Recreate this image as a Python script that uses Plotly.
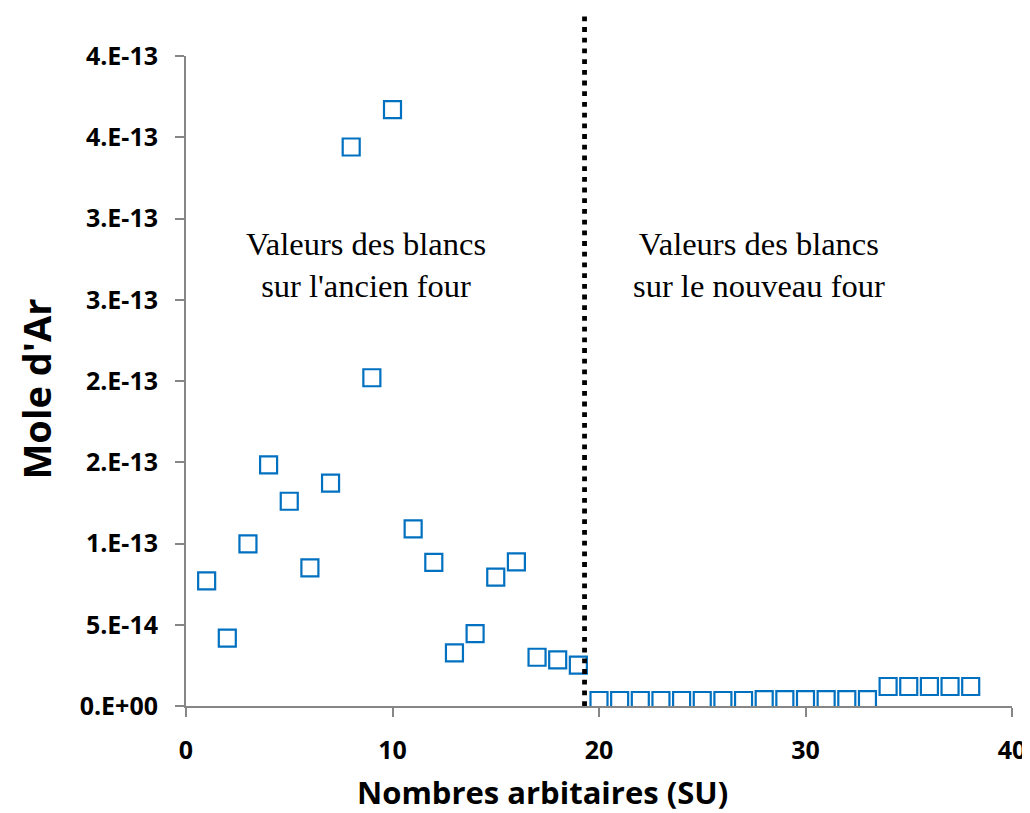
import plotly.graph_objects as go

# sample numbers (arbitrary units) and blank values (mol Ar)
sample_no = list(range(1, 39))
mole_ar = [
    7.7e-14, 4.18e-14, 9.98e-14, 1.484e-13, 1.26e-13, 8.5e-14, 1.372e-13,
    3.44e-13, 2.02e-13, 3.67e-13, 1.09e-13, 8.84e-14, 3.27e-14, 4.46e-14,
    7.93e-14, 8.87e-14, 3.0e-14, 2.84e-14, 2.51e-14,
    3.4e-15, 3.4e-15, 3.4e-15, 3.4e-15, 3.4e-15, 3.4e-15, 3.4e-15, 3.4e-15,
    3.9e-15, 3.9e-15, 3.9e-15, 3.9e-15, 3.9e-15, 3.9e-15,
    1.2e-14, 1.2e-14, 1.2e-14, 1.2e-14, 1.2e-14,
]

x_tickvals = [0, 10, 20, 30, 40]
y_tickvals = [0, 5e-14, 1e-13, 1.5e-13, 2e-13, 2.5e-13, 3e-13, 3.5e-13, 4e-13]
y_ticktext = ["0.E+00", "5.E-14", "1.E-13", "2.E-13", "2.E-13",
              "3.E-13", "3.E-13", "4.E-13", "4.E-13"]

separator_x = 19.3
labels = ["Valeurs des blancs<br>sur l'ancien four",
          "Valeurs des blancs<br>sur le nouveau four"]
label_x = [8.74, 27.76]
label_y = [2.714e-13, 2.714e-13]

blue = "#0070C0"
axis_grey = "#868686"
sans = "Open Sans, Lato, sans-serif"
tick_font = dict(family=sans, size=25, color="black", weight="bold")

fig = go.Figure()

fig.add_trace(go.Scatter(
    x=sample_no,
    y=mole_ar,
    mode="markers",
    marker=dict(symbol="square-open", size=17, color=blue,
                line=dict(width=2.2, color=blue)),
    showlegend=False,
))

# dotted separator between the two furnaces
fig.add_shape(
    type="line", xref="x", yref="paper",
    x0=separator_x, x1=separator_x, y0=0, y1=1.063,
    line=dict(color="black", width=4.8, dash="4.8px,5.9px"),
)

for txt, xx, yy in zip(labels, label_x, label_y):
    fig.add_annotation(
        x=xx, y=yy, text=txt, showarrow=False,
        font=dict(family="Liberation Serif, Times New Roman, serif",
                  size=32.5, color="black"),
    )

# axis titles placed by hand (the x title is off-centre in the original)
fig.add_annotation(
    text="Nombres arbitaires (SU)", xref="paper", yref="paper",
    x=0.431, y=-0.133, xanchor="center", yanchor="middle", showarrow=False,
    font=dict(family=sans, size=31, color="black", weight="bold"),
)
fig.add_annotation(
    text="Mole d'Ar", xref="paper", yref="paper", textangle=-90,
    x=-0.182, y=0.488, xanchor="center", yanchor="middle", showarrow=False,
    font=dict(family=sans, size=38, color="black", weight="bold"),
)

# page body adds 8px, so the figure is a bit smaller than the window
fig.update_layout(
    width=1022,
    height=805,
    margin=dict(l=177.5, r=18, t=48, b=107),
    plot_bgcolor="white",
    paper_bgcolor="white",
)

fig.update_xaxes(
    range=[0, 40],
    tickvals=x_tickvals,
    showgrid=False, zeroline=False, automargin=False,
    showline=True, linecolor=axis_grey, linewidth=2,
    ticks="outside", ticklen=9, tickwidth=2, tickcolor=axis_grey,
    tickfont=tick_font, ticklabelstandoff=12,
)

fig.update_yaxes(
    range=[0, 4e-13],
    tickvals=y_tickvals, ticktext=y_ticktext,
    showgrid=False, zeroline=False, automargin=False,
    showline=True, linecolor=axis_grey, linewidth=2,
    ticks="outside", ticklen=9, tickwidth=2, tickcolor=axis_grey,
    tickfont=tick_font, ticklabelstandoff=12,
)

fig.write_html("out.html")
